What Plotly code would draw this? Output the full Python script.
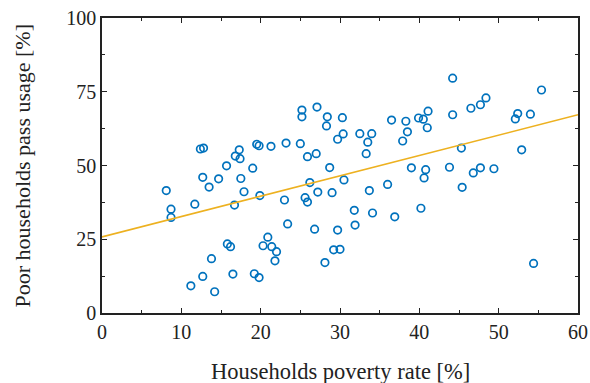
import plotly.graph_objects as go

poverty_rate = [12.4, 12.8, 15.7, 16.8, 17.3, 17.4, 19.0, 19.5, 19.8, 21.3,
                23.2, 25.0, 25.2, 25.2, 27.1, 28.4, 28.3, 25.9, 27.0, 28.7,
                29.7, 30.3, 30.4, 32.5, 33.5, 34.0, 33.3, 36.5, 38.3, 38.5,
                37.9, 39.9, 40.5, 41.1, 41.0, 44.2, 44.2, 45.3, 46.5, 47.7,
                48.4, 52.1, 52.4, 54.0, 52.9, 55.4, 39.0, 40.8, 43.8, 47.7,
                49.4, 46.8, 40.6, 45.4, 30.5, 29.0, 33.7, 36.0, 31.8, 31.9,
                29.7, 34.1, 36.9, 40.2, 29.2, 30.0, 54.4, 8.1, 8.7, 8.7,
                11.7, 12.7, 13.5, 14.7, 17.5, 17.9, 16.7, 19.9, 23.0, 26.2,
                25.6, 25.9, 27.2, 23.4, 26.8, 20.9, 20.3, 21.4, 22.0, 21.8,
                15.8, 16.2, 13.8, 12.7, 11.2, 14.2, 16.5, 19.2, 19.8, 28.1]
pass_usage = [55.6, 55.9, 49.9, 53.2, 55.3, 52.3, 49.1, 57.2, 56.7, 56.5,
              57.6, 57.4, 68.8, 66.5, 69.8, 66.5, 63.4, 53.0, 54.0, 49.3,
              58.9, 66.2, 60.7, 60.8, 57.9, 60.8, 54.0, 65.4, 65.0, 61.4,
              58.3, 66.1, 65.7, 68.4, 62.8, 79.6, 67.2, 55.9, 69.4, 70.6,
              72.9, 65.8, 67.6, 67.4, 55.3, 75.6, 49.2, 48.6, 49.4, 49.2,
              48.9, 47.5, 45.8, 42.6, 45.1, 40.8, 41.5, 43.6, 34.8, 29.8,
              28.1, 33.9, 32.6, 35.5, 21.4, 21.6, 16.8, 41.5, 35.2, 32.4,
              36.9, 46.0, 42.7, 45.5, 45.6, 41.1, 36.6, 39.8, 38.3, 44.2,
              39.1, 37.6, 41.0, 30.2, 28.4, 25.7, 22.8, 22.5, 20.8, 17.7,
              23.4, 22.5, 18.4, 12.4, 9.2, 7.2, 13.2, 13.3, 12.0, 17.1]

fit_x = [0, 60]
fit_y = [25.8, 67.2]

x_ticks = [0, 10, 20, 30, 40, 50, 60]
y_ticks = [0, 25, 50, 75, 100]

x_title = "Households poverty rate [%]"
y_title = "Poor households pass usage [%]"

FONT = "Liberation Serif"
INK = "#222222"

ML, MR, MT, MB = 102, 12, 18, 70
W, H = 590, 383
PW, PH = W - ML - MR, H - MT - MB

fig = go.Figure()
fig.add_trace(go.Scatter(
    x=poverty_rate, y=pass_usage, mode="markers",
    marker=dict(symbol="circle-open", size=7.5, color="#0072BD",
                line=dict(width=1.7, color="#0072BD")),
    showlegend=False, cliponaxis=False))
fig.add_trace(go.Scatter(
    x=fit_x, y=fit_y, mode="lines",
    line=dict(color="#EDB120", width=1.6), showlegend=False))

axis_common = dict(
    showline=True, linecolor=INK, linewidth=1.5, mirror="ticks",
    ticks="inside", ticklen=5, tickwidth=1, tickcolor=INK,
    showgrid=False, zeroline=False, automargin=False,
    tickfont=dict(family=FONT, size=20, color=INK),
)

fig.update_xaxes(range=[0, 60], tickvals=x_ticks,
                 minor=dict(ticks="inside", dtick=5, ticklen=3, tickcolor=INK),
                 **axis_common)
fig.update_yaxes(range=[0, 100], tickvals=y_ticks,
                 minor=dict(ticks="inside", dtick=12.5, ticklen=3, tickcolor=INK),
                 **axis_common)

fig.add_annotation(text=x_title, xref="paper", yref="paper",
                   x=0.5, y=-58 / PH,
                   showarrow=False, xanchor="center", yanchor="middle",
                   font=dict(family=FONT, size=22.5, color=INK))
fig.add_annotation(text=y_title, xref="paper", yref="paper",
                   x=(22 - ML) / PW, y=0.5, textangle=-90,
                   showarrow=False, xanchor="center", yanchor="middle",
                   font=dict(family=FONT, size=22, color=INK))

fig.update_layout(
    width=W, height=H,
    margin=dict(l=ML, r=MR, t=MT, b=MB, autoexpand=False),
    paper_bgcolor="white", plot_bgcolor="white",
)

fig.write_html("out.html", config={"displayModeBar": False},
               post_script="document.body.style.margin='0px';document.body.style.padding='0px';")
